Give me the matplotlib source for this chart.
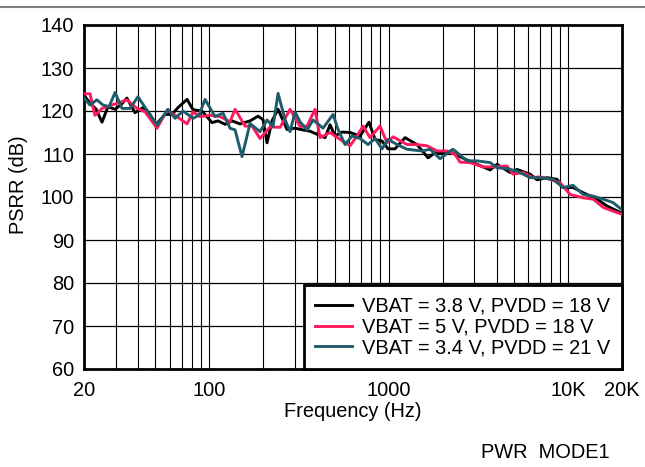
import matplotlib
matplotlib.use("Agg")
import matplotlib.pyplot as plt
from matplotlib.lines import Line2D
from matplotlib.ticker import FixedLocator, NullFormatter, NullLocator

plt.rcParams['font.family'] = ['Liberation Sans', 'DejaVu Sans']

# ---- data ----
freq_a = [20, 21.6, 23.3, 25.2, 27.2, 29.8, 32.2, 34.7, 38.5, 42.7, 46.1, 50.4,
          56.6, 61.9, 66.9, 75.1, 81.1, 91.0, 103.5, 111.8, 122.3, 133.8, 148.3,
          168.6, 186.8, 199.2, 209.7, 223.6, 241.6, 271.2, 300.5, 333.0, 364.2,
          403.7, 441.7, 471.0, 502.2, 549.5, 608.9, 692.3, 777.0, 839.3, 918.3,
          991.7, 1085, 1234, 1439, 1658, 1814, 2063, 2257, 2667, 3112, 3677,
          4022, 4755, 5201, 6146, 6721, 7642, 8692, 9388, 10674, 12138, 14528,
          16518, 20000]
psrr_a = [123.7, 121.8, 120.5, 117.4, 121.0, 120.4, 121.5, 123.0, 119.6, 120.8,
          119.5, 116.9, 119.2, 119.2, 120.8, 122.7, 120.3, 120.0, 117.3, 117.7,
          116.9, 117.7, 117.0, 117.7, 118.8, 118.0, 112.6, 117.7, 120.4, 115.7,
          116.0, 115.6, 115.3, 114.5, 113.8, 116.8, 114.2, 115.1, 115.0, 114.2,
          117.4, 113.4, 113.0, 111.2, 111.2, 113.8, 112.2, 109.1, 110.3, 110.2,
          110.3, 108.8, 107.6, 106.3, 107.6, 105.7, 106.4, 105.3, 104.0, 104.5,
          104.1, 102.2, 102.2, 101.0, 99.5, 97.9, 96.2]

freq_b = [20, 21.6, 23.0, 25.2, 26.9, 30.6, 34.7, 39.5, 43.8, 51.1, 58.1, 64.4,
          75.1, 81.1, 88.7, 100.9, 114.7, 130.4, 139.1, 158.1, 173.0, 191.7,
          218.0, 247.9, 281.8, 320.4, 350.5, 388.4, 414.2, 471.0, 535.6, 608.9,
          666.1, 719.5, 787.1, 895.0, 979.1, 1058, 1266, 1439, 1637, 1862, 2116,
          2345, 2501, 2843, 3360, 3821, 4575, 4940, 5617, 6387, 6986, 7943,
          9033, 10270, 12138, 13801, 15691, 17840, 20000]
psrr_b = [124.0, 124.0, 119.0, 120.6, 121.0, 121.8, 122.6, 120.6, 119.8, 116.0,
          120.2, 119.0, 117.0, 119.8, 118.7, 119.0, 118.7, 117.5, 120.4, 116.5,
          116.5, 113.6, 116.3, 116.2, 120.4, 116.4, 116.5, 120.4, 113.8, 115.0,
          113.4, 111.9, 114.2, 116.5, 113.8, 116.5, 112.6, 114.0, 112.2, 112.2,
          111.9, 110.7, 110.7, 109.9, 108.1, 108.0, 107.0, 107.0, 107.2, 105.3,
          105.7, 104.5, 104.7, 104.1, 103.3, 100.6, 99.8, 99.5, 97.6, 96.7, 96.0]

freq_c = [20, 21.6, 23.6, 25.5, 27.6, 29.8, 32.6, 36.1, 40.0, 44.9, 51.1, 58.8,
          64.4, 71.3, 81.1, 87.6, 94.6, 107.6, 119.2, 130.4, 139.1, 152.1, 168.6,
          191.7, 209.7, 226.5, 241.6, 264.3, 281.8, 300.5, 320.4, 350.5, 378.6,
          403.7, 430.5, 489.5, 522.0, 571.1, 624.7, 692.3, 767.1, 839.3, 918.3,
          991.7, 1114, 1266, 1535, 1701, 1935, 2200, 2286, 2736, 3112, 3677,
          4022, 4575, 5201, 6146, 6986, 8255, 9388, 10674, 12138, 13801, 15691,
          17840, 20000]
psrr_c = [123.0, 121.4, 122.6, 121.4, 121.0, 124.3, 120.6, 120.6, 123.3, 120.2,
          116.7, 120.4, 118.3, 120.0, 118.3, 119.0, 122.7, 118.7, 119.5, 116.0,
          115.6, 109.4, 117.1, 115.2, 117.9, 116.4, 124.1, 118.0, 115.2, 119.8,
          117.5, 115.6, 117.9, 117.0, 116.0, 119.2, 115.7, 112.2, 114.2, 113.6,
          112.2, 113.6, 111.2, 113.4, 112.2, 111.1, 110.7, 111.1, 108.9, 110.7,
          111.1, 108.4, 108.4, 108.0, 106.8, 106.6, 106.0, 104.5, 104.5, 104.1,
          102.2, 102.7, 100.6, 100.2, 99.5, 98.7, 97.0]

labels = ["VBAT = 3.8 V, PVDD = 18 V",
          "VBAT = 5 V, PVDD = 18 V",
          "VBAT = 3.4 V, PVDD = 21 V"]
colors = ["#000000", "#ff1a5e", "#1f5c6b"]

x_ticks = [20, 100, 1000, 10000, 20000]
x_tick_labels = ["20", "100", "1000", "10K", "20K"]
x_grid = [30, 40, 50, 60, 70, 80, 90, 100, 200, 300, 400, 500, 600, 700, 800,
          900, 1000, 2000, 3000, 4000, 5000, 6000, 7000, 8000, 9000, 10000]
y_ticks = [60, 70, 80, 90, 100, 110, 120, 130, 140]

FS = 14.4

fig = plt.figure(figsize=(6.45, 4.67), dpi=100)
ax = fig.add_axes([84 / 645, 1 - 369 / 467, (622 - 84) / 645, (369 - 25) / 467])

ax.set_xscale('log')
ax.set_xlim(20, 20000)
ax.set_ylim(60, 140)

for xv in x_grid:
    ax.axvline(xv, color='black', lw=0.8, zorder=1)
for yv in y_ticks[1:-1]:
    ax.axhline(yv, color='black', lw=0.9, zorder=1)

for f, p, lab, col in zip([freq_a, freq_b, freq_c], [psrr_a, psrr_b, psrr_c], labels, colors):
    ax.plot(f, p, color=col, lw=2.1, label=lab, zorder=3)

ax.xaxis.set_major_locator(FixedLocator(x_ticks))
ax.set_xticklabels(x_tick_labels)
ax.xaxis.set_minor_locator(NullLocator())
ax.xaxis.set_minor_formatter(NullFormatter())
ax.set_yticks(y_ticks)
ax.tick_params(axis='both', length=0, labelsize=FS)
ax.tick_params(axis='x', pad=9)
ax.tick_params(axis='y', pad=7)

for s in ax.spines.values():
    s.set_linewidth(2.0)
    s.set_color('black')

ax.set_xlabel("Frequency (Hz)", fontsize=FS, labelpad=1)
fig.text(19 / 645, 1 - 185 / 467, "PSRR (dB)", rotation=90, fontsize=FS,
         ha='center', va='center')

leg = ax.legend(loc='lower right', fontsize=FS, frameon=True, fancybox=False,
                borderaxespad=0, handlelength=1.85, handletextpad=0.5,
                labelspacing=0.09, borderpad=0.58)
leg.get_frame().set_edgecolor('black')
leg.get_frame().set_linewidth(2.0)
leg.get_frame().set_alpha(1)
leg.set_zorder(5)

fig.text(545 / 645, 1 - 452 / 467, "PWR  MODE1", fontsize=FS, ha='center', va='center')
fig.add_artist(Line2D([0, 1], [1 - 7 / 467, 1 - 7 / 467], transform=fig.transFigure,
                      color='#808080', lw=1.5))

fig.savefig("out.png", dpi=100)
